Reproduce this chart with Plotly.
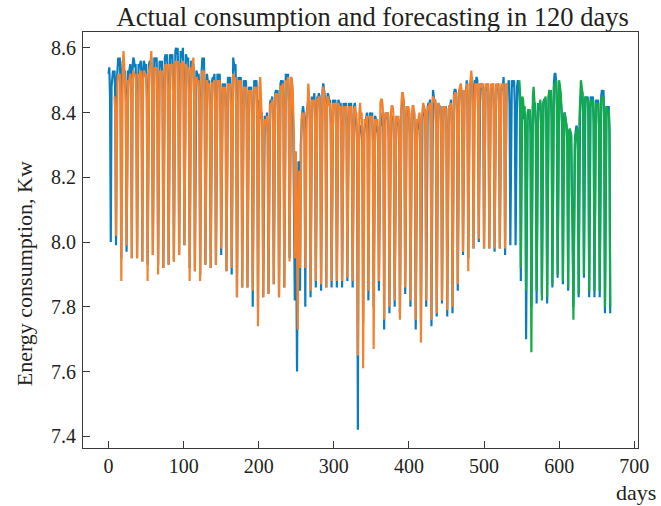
import plotly.graph_objects as go

# Actual consumption (days 0..668), one line per week
actual = [
8.52, 8.54, 8.45, 8.00, 8.48, 8.52, 8.53,
8.51, 8.53, 8.44, 7.99, 8.50, 8.55, 8.57,
8.55, 8.57, 8.48, 7.95, 8.52, 8.56, 8.54,
8.52, 8.53, 8.45, 7.97, 8.50, 8.53, 8.52,
8.53, 8.55, 8.46, 7.95, 8.54, 8.57, 8.56,
8.54, 8.55, 8.47, 7.95, 8.52, 8.55, 8.54,
8.55, 8.56, 8.46, 7.94, 8.53, 8.56, 8.55,
8.53, 8.55, 8.47, 7.93, 8.52, 8.55, 8.56,
8.55, 8.57, 8.48, 7.96, 8.54, 8.57, 8.56,
8.56, 8.57, 8.47, 7.93, 8.53, 8.56, 8.55,
8.54, 8.56, 8.47, 7.92, 8.54, 8.57, 8.58,
8.56, 8.58, 8.49, 7.93, 8.55, 8.58, 8.57,
8.57, 8.58, 8.48, 7.94, 8.56, 8.59, 8.60,
8.58, 8.60, 8.50, 7.96, 8.56, 8.59, 8.58,
8.57, 8.60, 8.49, 7.99, 8.55, 8.58, 8.57,
8.56, 8.57, 8.47, 7.92, 8.53, 8.56, 8.55,
8.53, 8.55, 8.45, 7.91, 8.50, 8.53, 8.52,
8.51, 8.52, 8.44, 7.90, 8.50, 8.53, 8.57,
8.55, 8.57, 8.46, 7.93, 8.50, 8.52, 8.50,
8.49, 8.50, 8.42, 7.92, 8.48, 8.50, 8.51,
8.50, 8.52, 8.43, 7.93, 8.49, 8.52, 8.51,
8.50, 8.52, 8.42, 7.96, 8.47, 8.49, 8.48,
8.47, 8.49, 8.41, 7.91, 8.48, 8.51, 8.50,
8.49, 8.51, 8.42, 7.90, 8.52, 8.57, 8.55,
8.53, 8.55, 8.44, 7.83, 8.49, 8.51, 8.50,
8.49, 8.51, 8.42, 7.86, 8.47, 8.50, 8.49,
8.48, 8.50, 8.41, 7.86, 8.46, 8.48, 8.47,
8.46, 8.48, 8.40, 7.80, 8.47, 8.50, 8.49,
8.48, 8.50, 8.40, 7.80, 8.44, 8.42, 8.40,
8.38, 8.40, 8.32, 7.83, 8.36, 8.39, 8.38,
8.37, 8.40, 8.33, 7.84, 8.40, 8.43, 8.44,
8.43, 8.45, 8.37, 7.87, 8.44, 8.46, 8.47,
8.46, 8.47, 8.39, 7.83, 8.47, 8.49, 8.50,
8.48, 8.50, 8.41, 7.86, 8.50, 8.52, 8.51,
8.50, 8.52, 8.43, 7.95, 8.49, 8.51, 8.50,
8.45, 8.35, 8.10, 7.82, 8.28, 8.00, 7.60,
8.05, 8.25, 8.22, 7.85, 8.30, 8.38, 8.40,
8.42, 8.40, 8.33, 7.80, 8.38, 8.41, 8.42,
8.44, 8.45, 8.37, 7.83, 8.42, 8.45, 8.44,
8.43, 8.46, 8.38, 7.86, 8.44, 8.45, 8.44,
8.46, 8.45, 8.38, 7.85, 8.45, 8.47, 8.49,
8.46, 8.45, 8.37, 7.86, 8.43, 8.46, 8.45,
8.43, 8.44, 8.36, 7.86, 8.42, 8.44, 8.43,
8.42, 8.44, 8.36, 7.86, 8.42, 8.44, 8.43,
8.42, 8.43, 8.35, 7.86, 8.41, 8.43, 8.42,
8.41, 8.43, 8.35, 7.88, 8.41, 8.43, 8.42,
8.41, 8.43, 8.35, 7.86, 8.40, 8.42, 8.43,
8.40, 8.36, 8.30, 7.42, 8.30, 8.34, 8.36,
8.35, 8.36, 8.30, 7.75, 8.33, 8.36, 8.37,
8.38, 8.40, 8.32, 7.82, 8.37, 8.40, 8.39,
8.38, 8.40, 8.31, 7.80, 8.36, 8.39, 8.38,
8.34, 8.36, 8.30, 7.85, 8.35, 8.37, 8.36,
8.38, 8.40, 8.33, 7.73, 8.36, 8.40, 8.39,
8.38, 8.40, 8.32, 7.78, 8.36, 8.39, 8.38,
8.38, 8.39, 8.31, 7.80, 8.36, 8.38, 8.37,
8.36, 8.38, 8.30, 7.78, 8.38, 8.41, 8.43,
8.42, 8.44, 8.36, 7.84, 8.40, 8.42, 8.41,
8.39, 8.41, 8.33, 7.80, 8.38, 8.40, 8.39,
8.38, 8.40, 8.32, 7.73, 8.35, 8.37, 8.36,
8.35, 8.37, 8.30, 7.75, 8.36, 8.39, 8.40,
8.39, 8.41, 8.34, 7.80, 8.40, 8.42, 8.43,
8.42, 8.44, 8.37, 7.74, 8.43, 8.47, 8.45,
8.42, 8.44, 8.37, 7.77, 8.41, 8.43, 8.42,
8.40, 8.42, 8.35, 7.81, 8.40, 8.42, 8.41,
8.40, 8.42, 8.34, 7.77, 8.40, 8.41, 8.42,
8.42, 8.44, 8.36, 7.78, 8.44, 8.46, 8.47,
8.47, 8.46, 8.39, 7.85, 8.45, 8.47, 8.46,
8.46, 8.47, 8.40, 7.96, 8.45, 8.47, 8.46,
8.46, 8.50, 8.41, 7.95, 8.47, 8.49, 8.48,
8.49, 8.51, 8.42, 7.98, 8.48, 8.50, 8.49,
8.51, 8.50, 8.42, 8.00, 8.47, 8.49, 8.48,
8.47, 8.49, 8.41, 7.98, 8.46, 8.48, 8.47,
8.47, 8.49, 8.41, 7.98, 8.46, 8.48, 8.47,
8.47, 8.49, 8.41, 7.97, 8.46, 8.48, 8.47,
8.47, 8.49, 8.41, 7.98, 8.46, 8.48, 8.47,
8.48, 8.51, 8.42, 7.96, 8.47, 8.49, 8.48,
8.48, 8.50, 8.42, 7.99, 8.47, 8.50, 8.49,
8.48, 8.50, 8.42, 7.99, 8.46, 8.48, 8.50,
8.48, 8.46, 8.40, 7.88, 8.40, 8.43, 8.42,
8.38, 8.40, 8.32, 7.70, 8.35, 8.39, 8.40,
8.38, 8.40, 8.33, 7.80, 8.38, 8.42, 8.44,
8.42, 8.43, 8.36, 7.81, 8.40, 8.42, 8.41,
8.41, 8.43, 8.36, 7.84, 8.40, 8.43, 8.44,
8.43, 8.44, 8.37, 7.81, 8.42, 8.45, 8.46,
8.44, 8.46, 8.38, 7.86, 8.45, 8.49, 8.52,
8.52, 8.50, 8.42, 7.89, 8.47, 8.49, 8.48,
8.45, 8.41, 8.35, 7.87, 8.38, 8.40, 8.39,
8.37, 8.35, 8.30, 7.85, 8.33, 8.35, 8.34,
8.33, 8.15, 8.05, 7.80, 8.25, 8.32, 8.34,
8.36, 8.35, 8.28, 7.83, 8.38, 8.42, 8.45,
8.47, 8.46, 8.39, 7.89, 8.44, 8.45, 8.44,
8.44, 8.45, 8.38, 7.83, 8.43, 8.45, 8.44,
8.43, 8.45, 8.37, 7.83, 8.42, 8.44, 8.43,
8.42, 8.44, 8.36, 7.83, 8.42, 8.45, 8.47,
8.46, 8.47, 8.39, 7.78, 8.40, 8.42, 8.41,
8.40, 8.42, 8.35, 7.78,
]

# Model output on the known period (days 8..532)
fitted = [
                  8.45, 8.40, 8.02, 8.46, 8.50, 8.52,
8.50, 8.52, 8.43, 7.88, 8.50, 8.55, 8.59,
8.53, 8.50, 8.43, 7.99, 8.48, 8.50, 8.49,
8.50, 8.52, 8.43, 7.95, 8.50, 8.53, 8.52,
8.51, 8.52, 8.44, 7.95, 8.50, 8.52, 8.51,
8.52, 8.53, 8.44, 7.94, 8.50, 8.53, 8.52,
8.51, 8.52, 8.43, 7.88, 8.50, 8.53, 8.54,
8.55, 8.59, 8.46, 7.96, 8.51, 8.54, 8.53,
8.53, 8.54, 8.45, 7.90, 8.51, 8.53, 8.52,
8.52, 8.53, 8.44, 7.92, 8.51, 8.54, 8.55,
8.53, 8.55, 8.46, 7.93, 8.52, 8.55, 8.54,
8.54, 8.55, 8.46, 7.94, 8.53, 8.56, 8.55,
8.55, 8.56, 8.47, 7.96, 8.53, 8.55, 8.55,
8.54, 8.56, 8.46, 7.99, 8.52, 8.55, 8.54,
8.53, 8.54, 8.45, 7.88, 8.52, 8.54, 8.53,
8.55, 8.57, 8.44, 7.91, 8.48, 8.51, 8.50,
8.49, 8.50, 8.42, 7.88, 8.48, 8.51, 8.53,
8.52, 8.53, 8.44, 7.93, 8.48, 8.50, 8.49,
8.48, 8.49, 8.41, 7.92, 8.47, 8.49, 8.49,
8.48, 8.50, 8.42, 7.93, 8.48, 8.50, 8.49,
8.48, 8.50, 8.41, 7.98, 8.46, 8.48, 8.47,
8.46, 8.48, 8.40, 7.91, 8.47, 8.49, 8.48,
8.48, 8.49, 8.41, 7.92, 8.49, 8.52, 8.51,
8.50, 8.51, 8.42, 7.83, 8.48, 8.50, 8.49,
8.48, 8.50, 8.41, 7.86, 8.46, 8.48, 8.47,
8.47, 8.48, 8.40, 7.86, 8.45, 8.47, 8.46,
8.45, 8.47, 8.39, 7.85, 8.46, 8.48, 8.47,
8.46, 8.48, 8.39, 7.74, 8.45, 8.48, 8.51,
8.40, 8.38, 8.31, 7.83, 8.35, 8.38, 8.37,
8.36, 8.39, 8.32, 7.84, 8.39, 8.42, 8.43,
8.42, 8.44, 8.36, 7.87, 8.43, 8.45, 8.46,
8.45, 8.46, 8.38, 7.83, 8.46, 8.48, 8.48,
8.47, 8.49, 8.40, 7.86, 8.48, 8.50, 8.49,
8.49, 8.51, 8.42, 7.94, 8.48, 8.51, 8.50,
8.48, 8.40, 8.30, 7.95, 8.28, 8.22, 8.05,
7.73, 8.12, 8.22, 7.92, 8.30, 8.38, 8.40,
8.38, 8.40, 8.33, 7.92, 8.36, 8.40, 8.41,
8.49, 8.45, 8.37, 7.85, 8.42, 8.44, 8.43,
8.42, 8.44, 8.37, 7.88, 8.43, 8.44, 8.44,
8.45, 8.44, 8.37, 7.87, 8.44, 8.46, 8.48,
8.46, 8.44, 8.36, 7.86, 8.42, 8.45, 8.44,
8.42, 8.43, 8.35, 7.88, 8.41, 8.43, 8.42,
8.41, 8.43, 8.35, 7.88, 8.41, 8.43, 8.42,
8.41, 8.42, 8.34, 7.88, 8.40, 8.42, 8.41,
8.40, 8.42, 8.34, 7.89, 8.40, 8.42, 8.41,
8.40, 8.42, 8.34, 7.88, 8.39, 8.41, 8.42,
8.39, 8.40, 8.32, 7.65, 8.36, 8.40, 8.43,
8.38, 8.40, 8.32, 7.61, 8.35, 8.38, 8.37,
8.37, 8.39, 8.31, 7.85, 8.36, 8.39, 8.38,
8.37, 8.39, 8.30, 7.67, 8.35, 8.38, 8.37,
8.36, 8.38, 8.31, 7.88, 8.40, 8.43, 8.44,
8.44, 8.42, 8.35, 7.76, 8.37, 8.40, 8.39,
8.39, 8.40, 8.33, 7.80, 8.37, 8.40, 8.42,
8.42, 8.41, 8.33, 7.82, 8.37, 8.39, 8.38,
8.37, 8.39, 8.31, 7.76, 8.39, 8.43, 8.46,
8.46, 8.44, 8.36, 7.86, 8.40, 8.42, 8.41,
8.42, 8.41, 8.33, 7.82, 8.38, 8.40, 8.42,
8.42, 8.40, 8.32, 7.76, 8.36, 8.38, 8.37,
8.38, 8.40, 8.33, 7.69, 8.38, 8.41, 8.43,
8.42, 8.41, 8.34, 7.82, 8.40, 8.42, 8.42,
8.42, 8.43, 8.36, 7.76, 8.42, 8.45, 8.44,
8.44, 8.43, 8.36, 7.78, 8.41, 8.43, 8.42,
8.42, 8.41, 8.34, 7.82, 8.40, 8.42, 8.41,
8.42, 8.41, 8.34, 7.79, 8.40, 8.41, 8.42,
8.42, 8.43, 8.36, 7.80, 8.43, 8.45, 8.46,
8.46, 8.45, 8.38, 7.87, 8.45, 8.47, 8.48,
8.49, 8.47, 8.40, 7.97, 8.45, 8.47, 8.46,
8.46, 8.49, 8.41, 7.91, 8.47, 8.49, 8.50,
8.53, 8.50, 8.42, 7.98, 8.48, 8.49, 8.48,
8.49, 8.49, 8.41, 8.01, 8.47, 8.49, 8.48,
8.48, 8.49, 8.41, 7.98, 8.47, 8.49, 8.48,
8.48, 8.49, 8.41, 7.98, 8.47, 8.49, 8.48,
8.48, 8.49, 8.41, 7.98, 8.47, 8.49, 8.48,
8.48, 8.49, 8.41, 7.98, 8.47, 8.49, 8.48,
8.48, 8.49, 8.42, 7.98, 8.47, 8.49, 8.48,
8.48,
]

# Forecast for the last 120-odd days (days 547..668)
forecast = [
      8.50, 8.46, 7.92, 8.43, 8.45, 8.44,
8.40, 8.42, 8.35, 7.85, 8.38, 8.40, 8.41,
8.40, 8.41, 8.34, 7.66, 8.40, 8.45, 8.48,
8.44, 8.43, 8.36, 7.85, 8.41, 8.43, 8.42,
8.42, 8.44, 8.36, 7.82, 8.41, 8.43, 8.44,
8.44, 8.45, 8.38, 7.83, 8.42, 8.45, 8.47,
8.46, 8.47, 8.40, 7.87, 8.45, 8.48, 8.49,
8.48, 8.50, 8.42, 7.90, 8.46, 8.50, 8.48,
8.46, 8.42, 8.36, 7.88, 8.38, 8.40, 8.39,
8.38, 8.36, 8.30, 7.86, 8.34, 8.35, 8.34,
8.33, 8.12, 8.02, 7.76, 8.22, 8.30, 8.33,
8.34, 8.35, 8.28, 7.84, 8.38, 8.44, 8.50,
8.48, 8.46, 8.39, 7.90, 8.43, 8.45, 8.44,
8.44, 8.44, 8.37, 7.85, 8.42, 8.44, 8.43,
8.42, 8.44, 8.36, 7.85, 8.41, 8.43, 8.42,
8.42, 8.43, 8.36, 7.85, 8.41, 8.44, 8.45,
8.44, 8.45, 8.38, 7.80, 8.40, 8.42, 8.41,
8.40, 8.41, 8.34, 7.80,
]

actual_start = 0
fitted_start = 8
forecast_start = 547

x_tick_vals = [0, 100, 200, 300, 400, 500, 600, 700]
y_tick_vals = [7.4, 7.6, 7.8, 8.0, 8.2, 8.4, 8.6]
y_tick_text = ["7.4", "7.6", "7.8", "8.0", "8.2", "8.4", "8.6"]

title_text = "Actual consumption and forecasting in 120 days"
y_label = "Energy consumption, Kw"
x_label = "days"

blue = "#0a7dbf"
orange = "#f5812d"
green = "#12aa4a"
axis_col = "#3a3a3a"
text_col = "#231f20"

fig = go.Figure()
fig.add_trace(go.Scatter(
    x=list(range(actual_start, actual_start + len(actual))), y=actual,
    mode="lines", line=dict(color=blue, width=2.2), name="actual"))
fig.add_trace(go.Scatter(
    x=list(range(fitted_start, fitted_start + len(fitted))), y=fitted,
    mode="lines", line=dict(color=orange, width=2.2), name="fitted"))
fig.add_trace(go.Scatter(
    x=list(range(forecast_start, forecast_start + len(forecast))), y=forecast,
    mode="lines", line=dict(color=green, width=2.2), name="forecast"))

axis_common = dict(
    showgrid=False, zeroline=False, showline=True, linecolor=axis_col,
    linewidth=1.2, mirror=True, ticks="inside", ticklen=7, tickwidth=1.2,
    tickcolor=axis_col, tickfont=dict(size=20, color=text_col,
                                      family="Liberation Serif"))

fig.update_layout(
    width=661, height=506,
    margin=dict(l=83, r=16, t=32, b=58),
    paper_bgcolor="white", plot_bgcolor="white",
    showlegend=False,
    font=dict(family="Liberation Serif", color=text_col),
    title=dict(text=title_text, x=0.522, xref="paper", xanchor="center",
               y=1 - 17 / 506, yref="container", yanchor="middle",
               font=dict(size=26.5, family="Liberation Serif", color=text_col)),
    xaxis=dict(range=[-34, 705], tickvals=x_tick_vals, **axis_common),
    yaxis=dict(range=[7.364, 8.649], tickvals=y_tick_vals,
               ticktext=y_tick_text, ticklabelstandoff=2, **axis_common),
    annotations=[
        dict(text=y_label, xref="paper", yref="paper", x=-0.106, y=0.418,
             xanchor="center", yanchor="middle", textangle=-90,
             showarrow=False,
             font=dict(size=22, family="Liberation Serif", color=text_col)),
        dict(text=x_label, xref="paper", yref="paper", x=1.036, y=-0.108,
             xanchor="right", yanchor="middle", showarrow=False,
             font=dict(size=22, family="Liberation Serif", color=text_col)),
    ],
)

fig.write_html("out.html",
               config={"displayModeBar": False},
               post_script="document.body.style.margin='0';")
